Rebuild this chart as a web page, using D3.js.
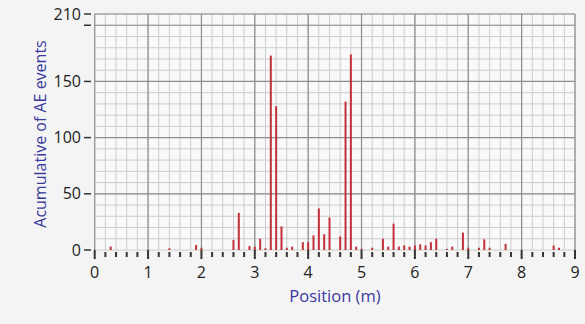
<!DOCTYPE html>
<html><head><meta charset="utf-8">
<script src="https://cdn.jsdelivr.net/npm/d3@7/dist/d3.min.js"></script>
<style>
html,body{margin:0;padding:0;background:#f4f4f4;}
svg{display:block;}
</style></head><body>
<svg id="c" width="585" height="324"></svg>
<script>
const positions = [0.3,1.4,1.9,2.0,2.6,2.7,2.9,3.0,3.1,3.2,3.3,3.4,3.5,3.6,3.7,3.9,4.0,4.1,4.2,4.3,4.4,4.6,4.7,4.8,4.9,5.0,5.2,5.4,5.5,5.6,5.7,5.8,5.9,6.0,6.1,6.2,6.3,6.4,6.6,6.7,6.9,7.0,7.2,7.3,7.4,7.7,8.6,8.7];
const events    = [3,1.5,4.5,2,9,33,3.5,3,10,1.5,173,128,21,2,3,7,7,13,37,14,29,12,132,174,3,1,2,10,3,23.5,3,4,3,4,5,4,7,10,1,3,15.5,2,2,9.5,2,5.5,4,2];
const xTicks = [0,1,2,3,4,5,6,7,8,9];
const yTicks = [0,50,100,150,200,210];
const yLabels = ["0","50","100","150","","210"];

const FONT = "'Segoe UI','Open Sans',sans-serif";
const svg = d3.select("#c");
const x = d3.scaleLinear().domain([0,9]).range([94.7,575]);
const y = d3.scaleLinear().domain([0,210]).range([250,14]);

svg.append("rect").attr("x",x(0)).attr("y",y(210)).attr("width",x(9)-x(0)).attr("height",y(0)-y(210)).attr("fill","#f9f9f9");

// minor grid
const g = svg.append("g");
d3.range(0,9.01,0.2).forEach(v=>{
  g.append("line").attr("x1",x(v)).attr("x2",x(v)).attr("y1",y(0)).attr("y2",y(210)).attr("stroke","#cdcdcd").attr("stroke-width",1);
});
d3.range(0,210.1,10).forEach(v=>{
  g.append("line").attr("x1",x(0)).attr("x2",x(9)).attr("y1",y(v)).attr("y2",y(v)).attr("stroke","#cdcdcd").attr("stroke-width",1);
});
// major grid
xTicks.forEach(v=>{
  g.append("line").attr("x1",x(v)).attr("x2",x(v)).attr("y1",y(0)).attr("y2",y(210)).attr("stroke","#8e8e8e").attr("stroke-width",1.2);
});
yTicks.filter(v=>v>0).forEach(v=>{
  g.append("line").attr("x1",x(0)).attr("x2",x(9)).attr("y1",y(v)).attr("y2",y(v)).attr("stroke","#8e8e8e").attr("stroke-width",1.2);
});

// bars
svg.append("g").selectAll("line").data(positions).join("line")
  .attr("x1",(d)=>x(d)).attr("x2",(d)=>x(d))
  .attr("y1",y(0)).attr("y2",(d,i)=>y(events[i]))
  .attr("stroke","#c42f3a").attr("stroke-width",2);

// x axis ticks
const ax = svg.append("g");
d3.range(0,9.01,0.2).forEach(v=>{
  const major = Math.abs(v-Math.round(v))<1e-6;
  ax.append("line").attr("x1",x(v)).attr("x2",x(v)).attr("y1",major?250:252).attr("y2",major?259:257)
    .attr("stroke","#333").attr("stroke-width",2);
});
ax.selectAll("text").data(xTicks).join("text")
  .attr("x",d=>x(d)).attr("y",278).attr("text-anchor","middle")
  .attr("font-family",FONT).attr("font-size",16).attr("fill","#222")
  .text(d=>d);

// y axis ticks
const ay = svg.append("g");
yTicks.forEach((v,i)=>{
  ay.append("line").attr("x1",84).attr("x2",91).attr("y1",y(v)).attr("y2",y(v)).attr("stroke","#333").attr("stroke-width",1.5);
  ay.append("text").attr("x",81).attr("y",y(v)+5.5).attr("text-anchor","end")
    .attr("font-family",FONT).attr("font-size",16).attr("fill","#222")
    .text(yLabels[i]);
});

// titles
svg.append("text").attr("x",335).attr("y",302).attr("text-anchor","middle")
  .attr("font-family",FONT).attr("font-size",16.5).attr("fill","#3a3a9e")
  .text("Position (m)");
svg.append("text").attr("transform","translate(46,134) rotate(-90)").attr("text-anchor","middle")
  .attr("font-family",FONT).attr("font-size",16).attr("fill","#3a3a9e")
  .text("Acumulative of AE events");
</script>
</body></html>
